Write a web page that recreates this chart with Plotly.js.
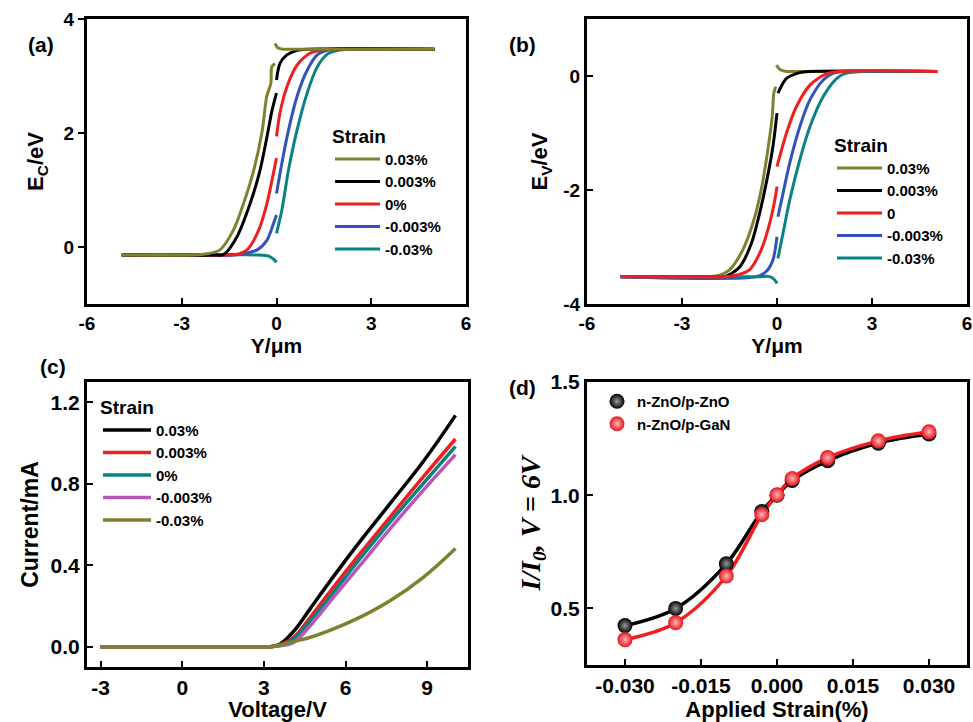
<!DOCTYPE html>
<html><head><meta charset="utf-8">
<script src="https://cdn.plot.ly/plotly-3.0.1.min.js"></script>
<style>html,body{margin:0;padding:0;background:#fff}#chart{width:973px;height:722px}</style>
</head><body><div id="chart"></div>
<script>
// ---------- Panel (a): conduction band Ec vs Y (null = interface break) ----------
const aStrainNames = ['0.03%', '0.003%', '0%', '-0.003%', '-0.03%'];
const aY_p03   = [-4.9, -2.6, -2.2, -1.79, -1.36, -1.04, -0.72, -0.45, -0.31, -0.18, -0.15, -0.05, null, -0.05, 0.05, 0.22, 0.5, 5.0];
const aEc_p03  = [-0.14, -0.14, -0.12, -0.05, 0.30, 0.77, 1.35, 2.05, 2.64, 2.87, 3.16, 3.22, null, 3.57, 3.49, 3.47, 3.47, 3.47];
const aY_p003  = [-4.9, -2.0, -1.67, -1.25, -0.83, -0.52, -0.30, -0.14, 0.0, null, 0.0, 0.11, 0.33, 0.65, 1.0, 5.0];
const aEc_p003 = [-0.14, -0.14, -0.13, 0.18, 0.77, 1.35, 1.94, 2.40, 2.70, null, 2.93, 3.22, 3.37, 3.45, 3.47, 3.47];
const aY_0     = [-4.9, -1.6, -1.2, -0.93, -0.56, -0.30, -0.14, 0.0, null, 0.0, 0.11, 0.33, 0.65, 1.06, 1.38, 1.7, 5.0];
const aEc_0    = [-0.14, -0.14, -0.12, -0.05, 0.30, 0.77, 1.18, 1.56, null, 1.94, 2.35, 2.81, 3.19, 3.40, 3.45, 3.47, 3.47];
const aY_m003  = [-4.9, -1.3, -1.04, -0.61, -0.30, -0.09, 0.0, null, 0.0, 0.17, 0.38, 0.65, 0.97, 1.29, 1.6, 1.9, 5.0];
const aEc_m003 = [-0.14, -0.14, -0.12, -0.05, 0.12, 0.42, 0.56, null, 0.94, 1.47, 2.05, 2.64, 3.10, 3.37, 3.45, 3.47, 3.47];
const aY_m03   = [-4.9, -0.6, -0.25, -0.1, 0.0, null, 0.0, 0.17, 0.38, 0.65, 0.97, 1.29, 1.6, 1.95, 2.3, 5.0];
const aEc_m03  = [-0.14, -0.14, -0.16, -0.21, -0.27, null, 0.24, 0.65, 1.35, 2.05, 2.70, 3.16, 3.38, 3.45, 3.47, 3.47];

// ---------- Panel (b): valence band Ev vs Y ----------
const bStrainNames = ['0.03%', '0.003%', '0', '-0.003%', '-0.03%'];
const bY_p03   = [-4.94, -2.2, -1.92, -1.50, -1.08, -0.76, -0.50, -0.29, -0.15, -0.1, -0.04, null, -0.02, 0.1, 0.3, 0.6, 5.06];
const bEv_p03  = [-3.52, -3.52, -3.51, -3.40, -3.05, -2.58, -2.0, -1.30, -0.71, -0.30, -0.19, null, 0.19, 0.11, 0.08, 0.08, 0.08];
const bY_p003  = [-4.94, -1.9, -1.6, -1.18, -0.81, -0.55, -0.34, -0.13, 0.0, null, 0.03, 0.3, 0.72, 1.0, 5.06];
const bEv_p003 = [-3.52, -3.52, -3.51, -3.35, -2.94, -2.41, -1.88, -1.24, -0.65, null, -0.30, -0.04, 0.06, 0.08, 0.08];
const bY_0     = [-4.94, -1.6, -1.4, -0.87, -0.5, -0.23, -0.07, 0.0, null, 0.0, 0.3, 0.61, 1.04, 1.57, 2.0, 5.06];
const bEv_0    = [-3.52, -3.52, -3.51, -3.40, -3.05, -2.58, -2.18, -1.94, null, -1.59, -1.0, -0.54, -0.16, 0.04, 0.08, 0.08];
const bY_m003  = [-4.94, -0.65, -0.34, -0.13, 0.0, null, 0.03, 0.19, 0.4, 0.72, 1.04, 1.46, 1.78, 2.1, 5.06];
const bEv_m003 = [-3.52, -3.52, -3.43, -3.23, -2.82, null, -2.47, -2.06, -1.53, -0.89, -0.42, -0.07, 0.05, 0.08, 0.08];
const bY_m03   = [-4.94, -0.6, -0.23, -0.07, 0.0, null, 0.03, 0.19, 0.4, 0.72, 1.04, 1.46, 1.89, 2.2, 5.06];
const bEv_m03  = [-3.52, -3.52, -3.52, -3.58, -3.64, null, -3.2, -2.76, -2.18, -1.47, -0.89, -0.36, -0.04, 0.05, 0.08];

// ---------- Panel (c): I-V curves ----------
const cStrainNames = ['0.03%', '0.003%', '0%', '-0.003%', '-0.03%'];
const cVoltage = [-3, 3.0, 3.24, 3.6, 4.09, 4.71, 5.56, 6.54, 7.65, 8.87, 10.04];
const cI_p03   = [0, 0, 0, 0.013, 0.075, 0.188, 0.345, 0.518, 0.705, 0.912, 1.136];
const cI_p003  = [0, 0, 0, 0.008, 0.046, 0.145, 0.293, 0.458, 0.639, 0.836, 1.020];
const cI_0     = [0, 0, 0, 0.006, 0.038, 0.128, 0.268, 0.433, 0.614, 0.803, 0.984];
const cI_m003  = [0, 0, 0, 0.004, 0.021, 0.104, 0.243, 0.400, 0.581, 0.770, 0.943];
const cI_m03   = [0, 0, 0, 0.008, 0.025, 0.046, 0.087, 0.145, 0.227, 0.342, 0.482];

// ---------- Panel (d): normalized current vs applied strain ----------
const dStrain = [-0.03, -0.02, -0.01, -0.003, 0, 0.003, 0.01, 0.02, 0.03];
const dZnO    = [0.424, 0.500, 0.697, 0.928, 1.000, 1.065, 1.152, 1.230, 1.270];
const dGaN    = [0.362, 0.437, 0.643, 0.914, 1.002, 1.074, 1.166, 1.240, 1.280];
const dNames  = ['n-ZnO/p-ZnO', 'n-ZnO/p-GaN'];

// ---------- tick labels ----------
const tickYum = [-6, -3, 0, 3, 6];
const tickYumText = ['-6', '-3', '0', '3', '6'];
const tickEc = [0, 2, 4];
const tickEcText = ['0', '2', '4'];
const tickEv = [-4, -2, 0];
const tickEvText = ['-4', '-2', '0'];
const tickV = [-3, 0, 3, 6, 9];
const tickVText = ['-3', '0', '3', '6', '9'];
const tickI = [0, 0.4, 0.8, 1.2];
const tickIText = ['0.0', '0.4', '0.8', '1.2'];
const tickS = [-0.03, -0.015, 0, 0.015, 0.03];
const tickSText = ['-0.030', '-0.015', '0.000', '0.015', '0.030'];
const tickR = [0.5, 1.0, 1.5];
const tickRText = ['0.5', '1.0', '1.5'];

// ---------- styles ----------
const OLIVE = '#80802f', BLACK = '#000000', RED = '#f01e1e', BLUE = '#3352c0', TEAL = '#0a8282', PURPLE = '#b857b8';
const FONT = 'Liberation Sans, Arial, sans-serif';
const W = 973, H = 722;
const px = v => v / W, py = v => 1 - v / H;

function line(x, y, name, color, xa, ya, legend, rank, width, smooth) {
  return {x: x, y: y, name: name, type: 'scatter', mode: 'lines', xaxis: xa, yaxis: ya,
    legend: legend, legendrank: rank, connectgaps: false,
    line: {color: color, width: width || 3, shape: 'spline', smoothing: smooth || 0.8}, hoverinfo: 'x+y'};
}

const traces = [
  // (a) drawn so olive is on top
  line(aY_m03, aEc_m03, aStrainNames[4], TEAL, 'x', 'y', 'legend', 5),
  line(aY_m003, aEc_m003, aStrainNames[3], BLUE, 'x', 'y', 'legend', 4),
  line(aY_0, aEc_0, aStrainNames[2], RED, 'x', 'y', 'legend', 3),
  line(aY_p003, aEc_p003, aStrainNames[1], BLACK, 'x', 'y', 'legend', 2),
  line(aY_p03, aEc_p03, aStrainNames[0], OLIVE, 'x', 'y', 'legend', 1),
  // (b) drawn so red is on top
  line(bY_p03, bEv_p03, bStrainNames[0], OLIVE, 'x2', 'y2', 'legend2', 1),
  line(bY_p003, bEv_p003, bStrainNames[1], BLACK, 'x2', 'y2', 'legend2', 2),
  line(bY_m003, bEv_m003, bStrainNames[3], BLUE, 'x2', 'y2', 'legend2', 4),
  line(bY_m03, bEv_m03, bStrainNames[4], TEAL, 'x2', 'y2', 'legend2', 5),
  line(bY_0, bEv_0, bStrainNames[2], RED, 'x2', 'y2', 'legend2', 3),
  // (c)
  line(cVoltage, cI_p03, cStrainNames[0], BLACK, 'x3', 'y3', 'legend3', 1, 3.5, 1.2),
  line(cVoltage, cI_p003, cStrainNames[1], RED, 'x3', 'y3', 'legend3', 2, 3.5, 1.2),
  line(cVoltage, cI_0, cStrainNames[2], TEAL, 'x3', 'y3', 'legend3', 3, 3.5, 1.2),
  line(cVoltage, cI_m003, cStrainNames[3], PURPLE, 'x3', 'y3', 'legend3', 4, 3.5, 1.2),
  line(cVoltage, cI_m03, cStrainNames[4], OLIVE, 'x3', 'y3', 'legend3', 5, 3.5, 1.2),
  // (d) smooth connecting lines (not in legend)
  {x: dStrain, y: dZnO, name: dNames[0], type: 'scatter', mode: 'lines', xaxis: 'x4', yaxis: 'y4', showlegend: false,
   line: {color: BLACK, width: 3.5, shape: 'spline', smoothing: 1}},
  {x: dStrain, y: dGaN, name: dNames[1], type: 'scatter', mode: 'lines', xaxis: 'x4', yaxis: 'y4', showlegend: false,
   line: {color: '#f01e1e', width: 3.5, shape: 'spline', smoothing: 1}},
  // (d) sphere-like markers
  {x: dStrain, y: dZnO, name: dNames[0], type: 'scatter', mode: 'markers', xaxis: 'x4', yaxis: 'y4', legend: 'legend4',
   marker: {color: '#000000', size: 15, gradient: {type: 'radial', color: '#9a9a9a'}, line: {width: 0}}},
  {x: dStrain, y: dGaN, name: dNames[1], type: 'scatter', mode: 'markers', xaxis: 'x4', yaxis: 'y4', legend: 'legend4',
   marker: {color: '#e8141c', size: 15, gradient: {type: 'radial', color: '#ffb8b8'}, line: {width: 0}}}
];

function axis(dom, anchor, range, tv, tt, title, tsize, ticks, tfont, standoff) {
  return {
    domain: dom, anchor: anchor, range: range, tickmode: 'array', tickvals: tv, ticktext: tt,
    showline: true, mirror: true, linewidth: 3, linecolor: '#000', showgrid: false, zeroline: false,
    ticks: ticks, ticklen: 6, tickwidth: 2, tickcolor: '#000',
    tickfont: {family: FONT, size: tfont, color: '#000', weight: 'bold'},
    title: {text: title, font: {family: FONT, size: tsize, color: '#000', weight: 'bold'}, standoff: standoff},
    automargin: false, fixedrange: true
  };
}

const dAx = [px(87), px(466)], dBx = [px(587), px(967)], dCx = [px(87), px(468)], dDx = [px(587), px(967)];
const dABy = [py(304), py(19)], dCy = [py(667), py(382)], dDy = [py(665), py(382)];

function legendStyle(x, y, title, iw) {
  const l = {x: x, y: y, xanchor: 'left', yanchor: 'top', bgcolor: 'rgba(0,0,0,0)', borderwidth: 0,
    font: {family: FONT, size: 15, color: '#000', weight: 'bold'}, itemwidth: iw, tracegroupgap: 0};
  if (title) l.title = {text: title, font: {family: FONT, size: 19, color: '#000', weight: 'bold'}, side: 'top'};
  return l;
}

const layout = {
  width: W, height: H, margin: {l: 0, r: 0, t: 0, b: 0}, paper_bgcolor: '#fff', plot_bgcolor: '#fff',
  showlegend: true,
  xaxis:  axis(dAx, 'y',  [-6, 6], tickYum, tickYumText, 'Y/μm', 21, 'inside', 19, 6),
  yaxis:  axis(dABy, 'x', [-1, 4], tickEc, tickEcText, 'E<sub>C</sub>/eV', 22, 'outside', 19, 14),
  xaxis2: axis(dBx, 'y2', [-6, 6], tickYum, tickYumText, 'Y/μm', 21, 'inside', 19, 6),
  yaxis2: axis(dABy, 'x2', [-4, 1], tickEv, tickEvText, 'E<sub>V</sub>/eV', 22, 'inside', 19, 10),
  xaxis3: axis(dCx, 'y3', [-3.5, 10.5], tickV, tickVText, 'Voltage/V', 22, 'inside', 21, 2),
  yaxis3: axis(dCy, 'x3', [-0.1, 1.3], tickI, tickIText, 'Current/mA', 23, 'inside', 21, 6),
  xaxis4: axis(dDx, 'y4', [-0.0375, 0.0375], tickS, tickSText, 'Applied Strain(%)', 22, 'inside', 21, 2),
  yaxis4: axis(dDy, 'x4', [0.25, 1.5], tickR, tickRText, 'I/I<sub>0</sub>, V = 6V', 28, 'inside', 21, 2),
  legend:  legendStyle(px(330), py(118), 'Strain', 45),
  legend2: legendStyle(px(832), py(127), 'Strain', 45),
  legend3: legendStyle(px(98), py(389), 'Strain', 48),
  legend4: legendStyle(px(597), py(385), null, 30),
  annotations: [
    {text: '(a)', x: px(26), y: py(31), xref: 'paper', yref: 'paper', showarrow: false, font: {family: FONT, size: 21, color: '#000', weight: 'bold'}},
    {text: '(b)', x: px(522), y: py(31), xref: 'paper', yref: 'paper', showarrow: false, font: {family: FONT, size: 21, color: '#000', weight: 'bold'}},
    {text: '(c)', x: px(38), y: py(366), xref: 'paper', yref: 'paper', showarrow: false, font: {family: FONT, size: 21, color: '#000', weight: 'bold'}},
    {text: '(d)', x: px(522), y: py(387), xref: 'paper', yref: 'paper', showarrow: false, font: {family: FONT, size: 21, color: '#000', weight: 'bold'}}
  ]
};
layout.yaxis4.title.font = {family: 'Liberation Serif, Times New Roman, serif', size: 28, color: '#000', weight: 'bold', style: 'italic'};

Plotly.newPlot('chart', traces, layout, {displayModeBar: false, staticPlot: true});
</script></body></html>
